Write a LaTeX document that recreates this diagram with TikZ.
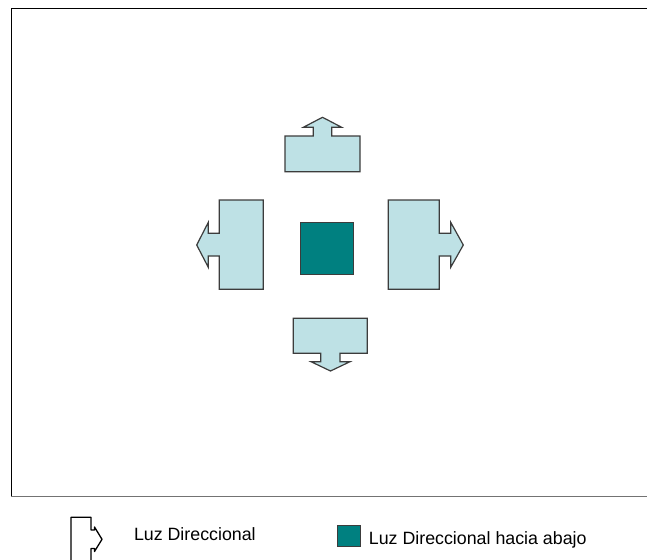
\documentclass[tikz,border=0pt]{standalone}
\usepackage{fontspec}
\setmainfont{Liberation Sans}
\usepackage{xcolor}
\usetikzlibrary{positioning}
\definecolor{luzAzul}{HTML}{BEE1E5}
\definecolor{luzBorde}{HTML}{3C3C3C}
\definecolor{luzTeal}{HTML}{008080}

\begin{document}
\begin{tikzpicture}[x=1pt,y=-1pt,
    lamp/.style={fill=luzAzul,draw=luzBorde,line width=1.2pt,line join=miter},
    downlamp/.style={fill=luzTeal,draw=luzBorde,line width=1.2pt},
    legtext/.style={inner sep=0pt,anchor=base west,font=\fontsize{17.8}{20}\selectfont}]
  \useasboundingbox (0,0) rectangle (647,559);
  % marco
  \draw[black,line width=1.3pt] (650,8.3) -- (11.5,8.3) -- (11.5,496.5);
  \draw[black!55,line width=1.5pt] (11,496.5) -- (650,496.5);
  % luces direccionales
  \draw[lamp] (285,171.7) -- (285,136) -- (313.3,136) -- (313.3,127.3) -- (303.3,127.3)
    -- (322.5,117.3) -- (341.7,127.3) -- (331.7,127.3) -- (331.7,136) -- (360,136)
    -- (360,171.7) -- cycle;
  \draw[lamp] (263.3,200) -- (219.3,200) -- (219.3,233.3) -- (208.3,233.3) -- (208.3,222.3)
    -- (196.7,245) -- (208.3,267.3) -- (208.3,256) -- (219.3,256) -- (219.3,289.3)
    -- (263.3,289.3) -- cycle;
  \draw[lamp] (388.3,200) -- (439.3,200) -- (439.3,233.3) -- (450.7,233.3) -- (450.7,222.3)
    -- (463.3,245) -- (450.7,267.3) -- (450.7,256) -- (439.3,256) -- (439.3,289.3)
    -- (388.3,289.3) -- cycle;
  \draw[lamp] (293.3,318.3) -- (367.3,318.3) -- (367.3,353.3) -- (340,353.3) -- (340,361.7)
    -- (350,361.7) -- (330.5,371) -- (311,361.7) -- (320.7,361.7) -- (320.7,353.3)
    -- (293.3,353.3) -- cycle;
  % luz hacia abajo
  \draw[downlamp] (300.7,222.7) rectangle (353.3,274.3);
  % leyenda
  \draw[black,fill=white,line width=1.3pt,line join=round] (71,565) -- (71,517.3) -- (91,517.3)
    -- (91,530) -- (94.5,530) -- (94.5,527) -- (102,539.3) -- (94.5,551.5) -- (94.5,548.5)
    -- (91,548.5) -- (91,565);
  \node[legtext] (legDir) at (133.8,540.7) {Luz Direccional};
  \draw[downlamp,line width=1pt] (337,525) rectangle (360,546.7);
  \node[legtext] (legAbajo) at (368.7,544) {Luz Direccional hacia abajo};
\end{tikzpicture}
\end{document}
